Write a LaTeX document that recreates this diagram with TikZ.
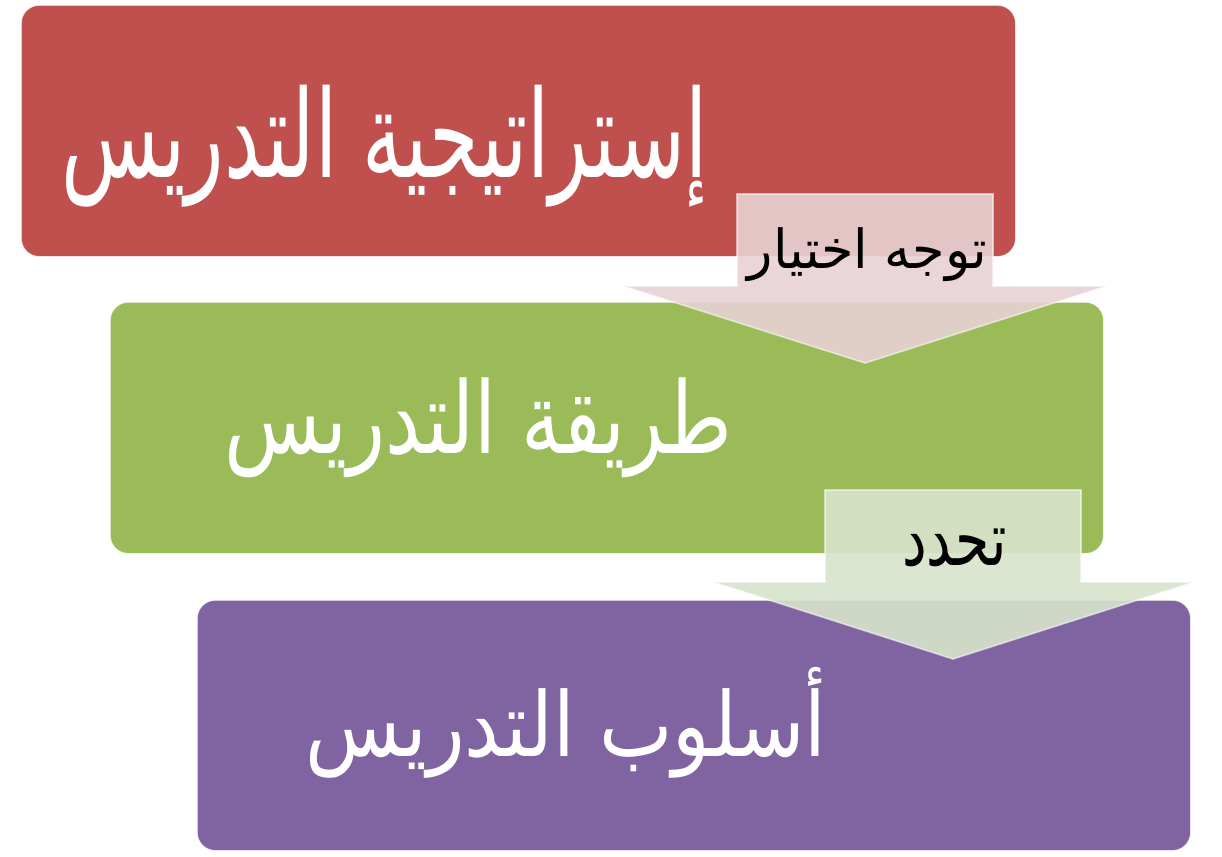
\documentclass[tikz,border=0pt]{standalone}
\usepackage{fontspec}
\usepackage{graphicx}
\newfontfamily\arabicfont[Script=Arabic]{DejaVu Sans}
\TeXXeTstate=1
\definecolor{redbox}{HTML}{C0504D}
\definecolor{greenbox}{HTML}{9BBB59}
\definecolor{purplebox}{HTML}{8064A2}
\definecolor{pinkarrow}{RGB}{232,210,212}
\definecolor{greenarrow}{RGB}{216,228,204}
\tikzset{
  box/.style={rounded corners=18pt, draw=white, draw opacity=0.5, line width=0.8pt, anchor=north west, inner sep=0pt},
  blockarrow/.style={fill opacity=0.9, draw=white, draw opacity=0.55, line width=1.6pt, line join=miter},
  boxtext/.style={inner sep=0pt, text=white, font=\arabicfont},
  arrowtext/.style={inner sep=0pt, text=black, font=\arabicfont}
}
\begin{document}
\begin{tikzpicture}[x=1pt,y=-1pt]
\useasboundingbox (0,0) rectangle (1222,856);
\fill[white] (0,0) rectangle (1222,856);
% boxes
\node[box, fill=redbox, minimum width=994pt, minimum height=251pt] (strat) at (21,5) {};
\node[box, fill=greenbox, minimum width=993pt, minimum height=251pt] (method) at (110,302) {};
\node[box, fill=purplebox, minimum width=993pt, minimum height=250pt] (style) at (197,600) {};
% box texts
\node[boxtext] (strattext) at (384.5,146) {\resizebox*{645pt}{122pt}{\beginR إستراتيجية التدريس\endR}};
\node[boxtext] (methodtext) at (478.5,428) {\resizebox*{507pt}{100pt}{\beginR طريقة التدريس\endR}};
\node[boxtext] (styletext) at (566,722.5) {\resizebox*{520pt}{111pt}{\beginR أسلوب التدريس\endR}};
% block arrows
\draw[blockarrow, fill=pinkarrow] (737,194) -- (993,194) -- (993,286) -- (1107,286) -- (865,363) -- (623,286) -- (737,286) -- cycle;
\draw[blockarrow, fill=greenarrow] (825,490) -- (1081,490) -- (1081,582) -- (1194,582) -- (953,659) -- (713,582) -- (825,582) -- cycle;
% arrow labels
\node[arrowtext] (choose) at (867.5,255) {\resizebox*{239pt}{54pt}{\beginR توجه اختيار\endR}};
\node[arrowtext] (defines) at (954.5,548) {\resizebox*{105pt}{38pt}{\beginR تحدد\endR}};
\end{tikzpicture}
\end{document}
